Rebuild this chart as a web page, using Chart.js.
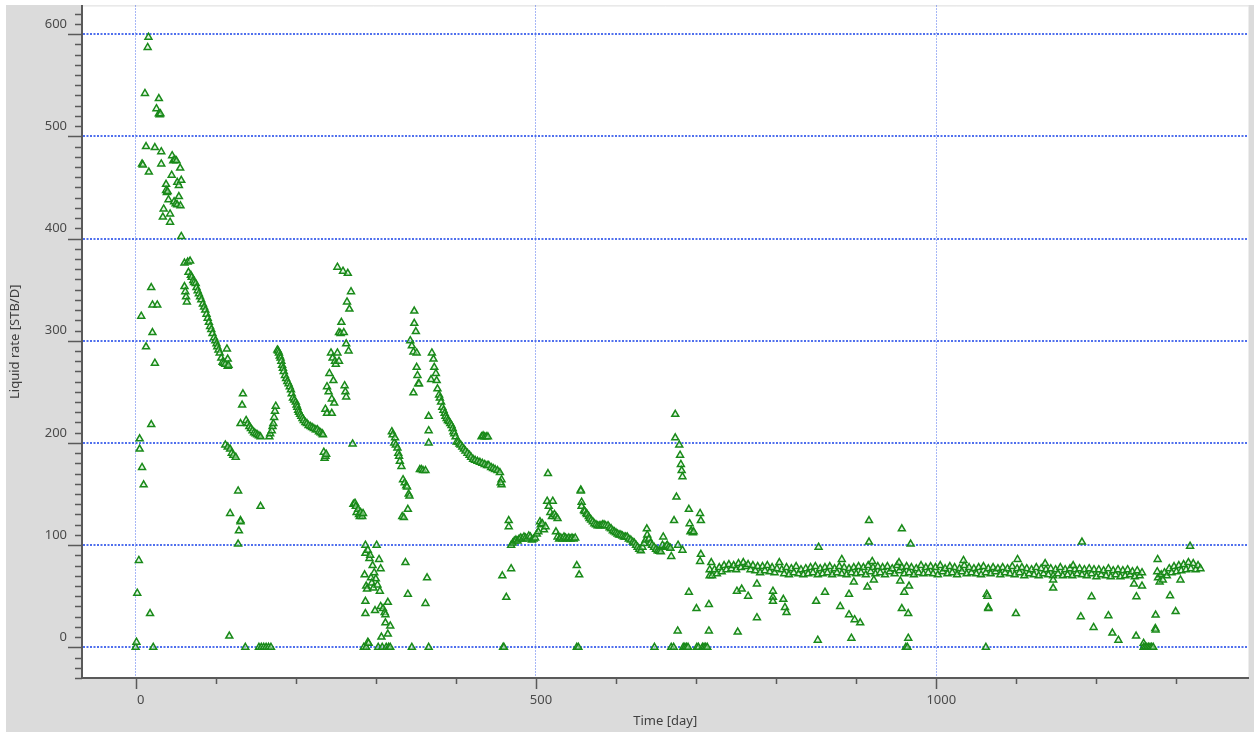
<!DOCTYPE html>
<html>
<head>
<meta charset="utf-8">
<script src="https://cdn.jsdelivr.net/npm/chart.js@4.4.1/dist/chart.umd.min.js"></script>
<style>
  html, body { margin: 0; padding: 0; background: #fff; }
  canvas { display: block; }
</style>
</head>
<body>
<canvas id="rateChart" width="1254" height="734"></canvas>
<script>
// [day, liquid rate STB/D], grouped by period
const startup = [
  [0,0],[1,5],[2,53],[4,85],[5,194],[5,204],[7,324],[8,176],[8,473],[9,472],[10,159],[11.6,542],
  [13,294],[13,490],[15,587],[16,597],[16.5,465],[18,33],[19.5,218],[19.5,352],[21,308],[21,335],
  [22,0],[24,278],[24,489],[26,527],[27,335],[29,537],[29,522],[30,521],[31,522],[32,485],[32,473],
  [34,421],[35,429],[38,453],[38,447],[39,445],[40,446],[41,438],[43,424],[43,416],[45,462],[45.6,481],
  [47,476],[48,436],[49,477],[50,434],[51,476],[52,455],[52,433],[54,452],[54,441],[55.6,469],[56,432],
  [57,457],[57,402],[61,376],[61,353],[62,348],[63,343],[64,338],[65,377],[66,367],[68,378]
];

const decline1 = [
  [69,364],[70,362],[72,359],[73,357],[75,356],[76,352],[77.5,349],[79,346],[80.5,343],[82,340],
  [84,336],[85.5,333],[87,330],[88.5,326],[90,322],[91.5,318],[93,314],[94.5,311],[96,307],[98,303],
  [99.5,300],[101,297],[102,294],[103.5,291],[105,288],[107,283],[108.5,279],[110,278],[112,277],
  [114,292],[115,282],[115,275],[116,276],
  [112,198],[115,196],[118,194],[120,190],[122,188],[125,186],[117,11],[118,131],[128,153],[129,114],
  [128,101],[131,124],[131,123],[131,219],[133,237],[134,248],[137,0],[138,222],[140,219],[142,216],
  [144,214],[146,212],[148,210],[150,209],[152,208],[154,207],[156,206],[156,138],[154,0],[157,0],
  [160,0],[163,0],[166,0],[169,0],
  [167,206],[168,209],[170,212],[171,216],[172,219],[173,225],[174,231],[175,236]
];

const decline2 = [
  [177,291],[178,290],[179,288],[180,285],[181,283],[182,280],[183,276],[184,273],[185,270],[186.5,266],
  [188,263],[189.5,260],[191,258],[192.5,255],[194,252],[195,248],[196.5,244],[198,242],[200,240],
  [201,237],[202,235],[203,232],[204,230],[205.5,228],[207,226],[208.5,224],[210,222],[212,220],
  [214,219],[216,217],[218.5,216],[220.5,215],[222.6,214],[225,213],[227,213],[229,211],[231,210],
  [233,209],[234,208],[235,191],[236,185],[237,187],[238,189]
];

const buildup3 = [
  [237,233],[239,229],[239,255],[241,250],[242,268],[244,288],[245,243],[245,229],[246,283],[247,261],
  [248,239],[249,280],[250,277],[252,288],[252,372],[254,308],[254,280],[256,307],[257,318],[259,368],
  [260,308],[261,256],[262,250],[263,297],[263,245],[264,338],[265,366],[266,290],[267,331],[269,348],
  [271,199],
  [272,140],[274,141],[275,138],[276,132],[278,135],[279,130],[280,128],[281,132],[283,128],[284,131],
  [285,0],[286,71],[287,45],[287,100],[287,92],[287,33],[288,0],[288,60],[289,57],[290,5],[290,95],
  [291,4],[292,87],[293,90],[294,68],[295,63],[296,80],[297,58],[298,73],[299,36],[300,67],[301,100],
  [302,61],[303,0],[304,86],[305,55],[306,40],[306,77],[307,10],[308,0],[309,38],[311,34],[312,32],
  [312,24],[313,0],[315,44],[315,13],[316,0],[318,21],[318,0],
  [320,211],[321,208],[323,200],[324,205],[325,198],[327,195],[328,190],[329,187],[330,182],[332,177],
  [333,128],[334,164],[335,127],[336,161],[337,83],[338,158],[339,157],[340,135],[340,52],[341,150],
  [342,148],[345,0],
  [343,300],[345,295],[347,289],[347,249],[348,329],[348,317],[350,309],[351,288],[351,274],[352,266],
  [353,258],[354,258],[355,174],[357,174],[359,173],[362,173],[362,43],[364,68],[366,226],[366,212],
  [366,200],[366,0]
];

const decline4 = [
  [369,262],[370,288],[372,282],[373,274],[375,268],[376,261],[377,253],[379,247],[380,244],[381.5,240],
  [383,235],[384.5,232],[386,229],[387,226],[388.5,224],[390,222],[391.5,221],[393,219],[394.6,217],
  [396,214],[397,211],[398,209],[399.6,206],[401,201],[403,201],[404.5,199],[406,198],[408,196],
  [410,194],[412,192],[414.5,190],[417,188],[419,186],[421.5,184],[424,183],[427,182],[430,181],
  [433,180],[436,179],[439,178],[441,178],[444,176],[446.5,175],[449,174],[452,173],[455,171],
  [457,164],[457,159],
  [432,206],[434,207],[436,206],[438,206],[440,206]
];

const midLife = [
  [456,161],[458,70],[459,0],[460,0],[463,49],[466,124],[466,118],[469,77],[469,100],[471,102],
  [473,104],[475,105],[477,104],[479,106],[481,107],[483,106],[485,108],[487,107],[489,106],[491,109],
  [493,108],[495,105],[497,106],[499,107],[501,111],[503,113],[505,123],[506,120],[508,121],[510,115],
  [512,118],[514,143],[515,170],[516,138],[518,132],[520,128],[521,143],[523,130],[525,128],[525,113],
  [527,126],[527,108],[529,106],[531,107],[533,106],[535,108],[537,107],[539,106],[541,107],[543,106],
  [545,107],[547,106],[549,107],[551,80],[551,0],[553,0],[554,71],[556,154],[556,153],[557,142],[557,138],
  [560,134],[561,133],[563,131],[564,130],[566,128],[567,126],[569,124.5],[571,123],[573,121],[575,120],
  [577,119],[579,119],[581,119],[583,120],[585,120],[587,119],[590,119],[592,117],[594,116],[596,114],
  [598,113],[600,112],[602,111],[604,110],[606,110],[608,109],[610,108],[612,108],[614,108],[616,106],
  [618.5,105],[621,103],[623,102],[625,100],[627,98],[629,96],[631,94.5],[633,98],[635,101.7],[637,105],
  [638.5,116],[639,110],[641,106],[643,102],[645,100],[647.5,98],[648,0],[650,96],[652,94.5],[654,94],
  [656,93.5],[658,100],[659,108],[661,98],[663,99],[664,100],[666,98],[668,97],[669,89],[669,0],[672,0],
  [672.5,124],[674,228],[674,205],[675.5,147],[677,16],[677.5,100],[679,198],[680,188],[681,179],
  [682,173],[683,167],[683,95],[684,0],[686,0],[688,0],[690,0],[691,135],[691,54],[692,121],[693,113],
  [694,114],[696,112],[697,113],[700.5,38],[701,0],[703,0],[705,131],[705,84],[706,124],[706,91],
  [708,0],[710,0],[712,0],[714,0],[716,42],[716,16],[717,76],[717,70]
];

const plateau = [
  [720,70],[723,76],[726,72],[729,78],[732,74],[735,80],[738,76],[741,81],[744,77],[747,80],
  [750,76],[753,82],[756,78],[759,83],[762,79],[765,81],[768,76],[771,80],[774,75],[777,79],
  [780,73],[783,79],[786,75],[789,80],[792,74],[795,78],[798,73],[801,77],[804,83],[807,76],
  [810,72],[813,78],[816,71],[819,77],[822,73],[825,79],[828,72],[831,76],[834,71],[837,77],
  [840,72],[843,78],[846,73],[849,79],[852,71],[855,77],[858,72],[861,78],[864,73],[867,79],
  [870,71],[873,77],[876,73],[879,79],[882,72],[885,78],[888,71],[891,77],[894,73],[897,78],
  [900,72],[903,79],[906,73],[909,78],[912,71],[915,80],[918,74],[921,78],[924,72],[927,79],
  [930,73],[933,78],[936,71],[939,79],[942,74],[945,77],[948,72],[951,80],[954,75],[957,78],
  [960,72],[963,79],[966,73],[969,78],[972,71],[975,77],[978,73],[981,80],[984,72],[987,78],
  [990,73],[993,79],[996,72],[999,78],[1002,71],[1005,80],[1008,74],[1011,77],[1014,72],[1017,79],
  [1020,73],[1023,78],[1026,71],[1029,77],[1032,74],[1035,80],[1038,72],[1041,78],[1044,73],[1047,77],
  [1050,72],[1053,78],[1056,71],[1059,79],[1062,73],[1065,77],[1068,72],[1071,78],[1074,74],[1077,77],
  [1080,71],[1083,78],[1086,73],[1089,77],[1092,72],[1095,79],[1098,71],[1101,77],[1104,73],[1107,78],
  [1110,70],[1113,77],[1116,72],[1119,76],[1122,71],[1125,78],[1128,70],[1131,77],[1134,72],[1137,76],
  [1140,71],[1143,77],[1146,70],[1149,76],[1152,72],[1155,78],[1158,70],[1161,76],[1164,71],[1167,77],
  [1170,70],[1173,76],[1176,72],[1179,77],[1182,71],[1185,76],[1188,70],[1191,77],[1194,72],[1197,76],
  [1200,69],[1203,76],[1206,71],[1209,75],[1212,70],[1215,77],[1218,69],[1221,75],[1224,71],[1227,76],
  [1230,69],[1233,75],[1236,70],[1239,76],[1242,71],[1245,74],[1248,69],[1251,75],[1254,70],[1257,73],
  [1276,74],[1277,68],[1279,64],[1281,71],[1283,66],[1285,73],[1288,70],[1291,77],[1294,73],[1297,79],
  [1300,74],[1303,80],[1306,75],[1309,81],[1312,76],[1315,83],[1318,77],[1321,82],[1324,76],[1327,80],
  [1330,77]
];

const plateauOutliers = [
  [719,83],[751,55],[752,15],[757,57],[765,50],[776,62],[776,29],[796,55],[796,49],[796,45],[809,47],
  [811,39],[813,34],[850,45],[852,7],[853,98],[861,54],[880,40],[882,86],[891,52],[891,32],[894,9],
  [897,64],[898,27],[905,24],[914,59],[916,124],[916,103],[920,84],[922,66],[953.5,83],[955,65],
  [957,116],[957,38],[960,54],[962,0],[964,0],[965,33],[965,9],[966,60],[968,101],[1034,85],[1062,0],
  [1063,52],[1064,50],[1065,39],[1065,38],[1099.5,33],[1101.5,86],[1136,82],[1146,66],[1146,58],
  [1171,80],[1180.5,30],[1182,103],[1194,49.5],[1196.5,19.5],[1215,31],[1220,14],[1227.5,7],[1247,62],
  [1249.6,11],[1250,49.5],[1257,60],[1259,4],[1259,0],[1261,0],[1263,0],[1265,0],[1267,0],[1269,0],
  [1271,0],[1273.6,18.5],[1274,17],[1274,31.6],[1276.5,86],[1292,50.5],[1299,35],[1305,66],[1317,99]
];

const periods = [startup, decline1, decline2, buildup3, decline4, midLife, plateau, plateauOutliers];

// axis ranges and tick positions
const X_MIN = -67, X_MAX = 1390;
const Y_MIN = -30, Y_MAX = 628;
const xTicks = [0, 100, 200, 300, 400, 500, 600, 700, 800, 900, 1000, 1100, 1200, 1300];
const xLabelled = [0, 500, 1000];
const yLabelled = [0, 100, 200, 300, 400, 500, 600];
const yTicks = [];
for (let v = -30; v <= 620; v += 10) yTicks.push(v);

const points = [];
periods.forEach(p => p.forEach(([d, q]) => points.push({ x: d, y: q })));

const tickFont = { family: 'Noto Sans', size: 13 };
const titleFont = { family: 'Noto Sans', size: 13 };
const gridBlue = 'rgba(60, 95, 235, 0.9)';

// grey frame around the white plot area
const backdrop = {
  id: 'backdrop',
  beforeDraw(chart) {
    const { ctx, chartArea: a, width, height } = chart;
    ctx.save();
    ctx.fillStyle = '#ffffff';
    ctx.fillRect(0, 0, width, height);
    ctx.fillStyle = '#dbdbdb';
    ctx.fillRect(6, 5, width - 6, height - 7);
    ctx.fillStyle = '#ffffff';
    ctx.fillRect(a.left, a.top, a.right - a.left, a.bottom - a.top);
    ctx.strokeStyle = '#e4e4e4';
    ctx.lineWidth = 1;
    ctx.beginPath();
    ctx.moveTo(a.left, a.top + 0.5);
    ctx.lineTo(a.right, a.top + 0.5);
    ctx.stroke();
    ctx.restore();
  }
};

// major / minor tick marks outside the plot area
const tickMarks = {
  id: 'tickMarks',
  afterDraw(chart) {
    const { ctx, scales: { x, y }, chartArea: a } = chart;
    ctx.save();
    ctx.strokeStyle = '#5a5a5a';
    ctx.lineWidth = 1.5;
    ctx.beginPath();
    y.ticks.forEach(t => {
      const py = Math.round(y.getPixelForValue(t.value)) + 0.5;
      const len = yLabelled.includes(t.value) ? 14 : 7;
      ctx.moveTo(a.left - len, py);
      ctx.lineTo(a.left, py);
    });
    x.ticks.forEach(t => {
      const px = Math.round(x.getPixelForValue(t.value)) + 0.5;
      const len = xLabelled.includes(t.value) ? 11 : 6;
      ctx.moveTo(px, a.bottom);
      ctx.lineTo(px, a.bottom + len);
    });
    ctx.stroke();
    ctx.restore();
  }
};

new Chart(document.getElementById('rateChart'), {
  type: 'scatter',
  data: {
    datasets: [{
      label: 'Liquid rate',
      data: points,
      pointStyle: 'triangle',
      pointRadius: 4,
      pointBorderWidth: 1.5,
      borderColor: '#198a19',
      backgroundColor: 'rgba(205, 238, 205, 0.5)'
    }]
  },
  options: {
    responsive: false,
    animation: false,
    events: [],
    layout: { padding: { left: 6, top: 5, right: 0, bottom: 2 } },
    plugins: {
      legend: { display: false },
      tooltip: { enabled: false }
    },
    scales: {
      x: {
        type: 'linear',
        min: X_MIN,
        max: X_MAX,
        bounds: 'data',
        afterBuildTicks: s => { s.ticks = xTicks.map(v => ({ value: v })); },
        ticks: {
          autoSkip: false,
          maxRotation: 0,
          labelOffset: 5,
          padding: 14,
          color: '#4a4a4a',
          font: tickFont,
          callback: v => (xLabelled.includes(v) ? String(v) : '')
        },
        grid: {
          drawTicks: false,
          lineWidth: 1,
          color: c => (c.tick && xLabelled.includes(c.tick.value) ? gridBlue : 'transparent')
        },
        border: { display: true, color: '#5a5a5a', width: 2, dash: [1, 2] },
        title: {
          display: true,
          text: 'Time [day]',
          color: '#404040',
          font: titleFont,
          padding: { top: 0, bottom: 3 }
        },
        afterFit: s => { s.height = 54; s.paddingLeft = 0; s.paddingRight = 0; }
      },
      y: {
        type: 'linear',
        min: Y_MIN,
        max: Y_MAX,
        bounds: 'data',
        afterBuildTicks: s => { s.ticks = yTicks.map(v => ({ value: v })); },
        ticks: {
          autoSkip: false,
          labelOffset: -10,
          padding: 15,
          color: '#4a4a4a',
          font: tickFont,
          callback: v => (yLabelled.includes(v) ? String(v) : '')
        },
        grid: {
          drawTicks: false,
          lineWidth: 2,
          color: c => (c.tick && yLabelled.includes(c.tick.value) ? gridBlue : 'transparent')
        },
        border: { display: true, color: '#5a5a5a', width: 2, dash: [2, 1.5] },
        title: {
          display: true,
          text: 'Liquid rate [STB/D]',
          color: '#404040',
          font: titleFont,
          padding: { top: 1, bottom: 0 }
        },
        afterFit: s => { s.width = 76; s.paddingTop = 0; s.paddingBottom = 0; }
      }
    }
  },
  plugins: [backdrop, tickMarks]
});
</script>
</body>
</html>
